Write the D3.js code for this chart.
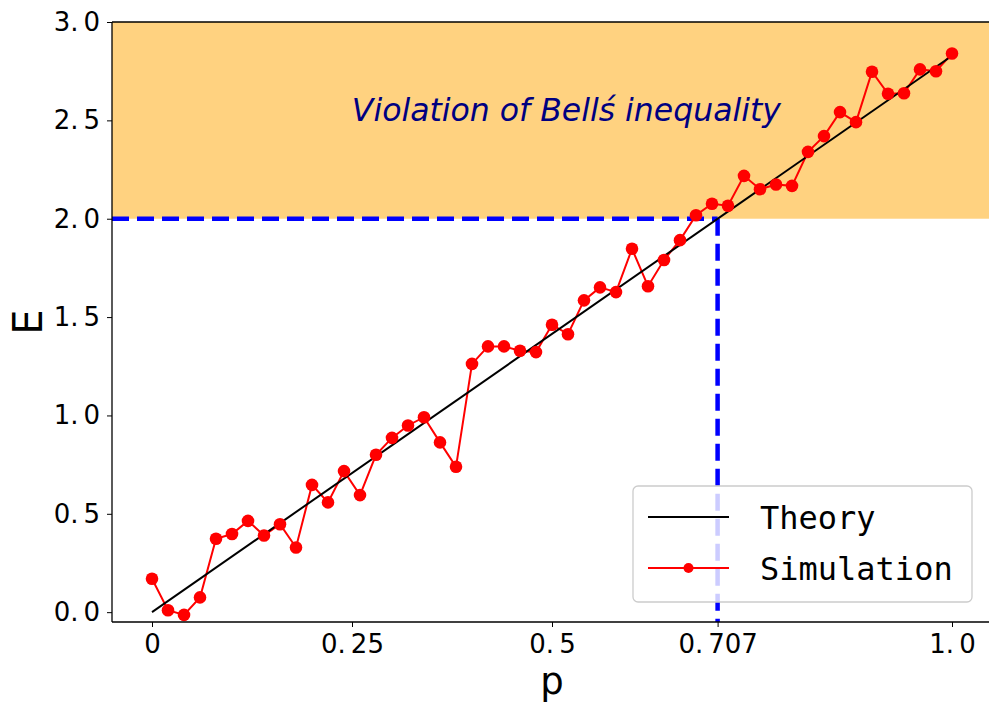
<!DOCTYPE html>
<html>
<head>
<meta charset="utf-8">
<script src="https://cdn.jsdelivr.net/npm/d3@7"></script>
<style>
  body { margin: 0; background: #fff; }
</style>
</head>
<body>
<svg id="canvas" width="989" height="706"></svg>
<script>
const svg = d3.select("#canvas");
const width = 989;
const height = 706;

// p values, step 0.02
const pValues = d3.range(0, 51).map(i => +(i * 0.02).toFixed(2));
const simValues = [
    0.17, 0.01, -0.014, 0.075, 0.373, 0.397, 0.464, 0.39, 0.447, 0.329,
    0.647, 0.558, 0.717, 0.595, 0.80, 0.886, 0.949, 0.991, 0.863, 0.739,
    1.262, 1.351, 1.351, 1.329, 1.322, 1.461, 1.413, 1.585, 1.651, 1.627,
    1.847, 1.657, 1.79, 1.891, 2.018, 2.076, 2.066, 2.218, 2.15, 2.174,
    2.167, 2.34, 2.42, 2.542, 2.491, 2.747, 2.635, 2.638, 2.759, 2.75,
    2.84
];
const theoryP = [0, 1];
const theoryE = [0, 2 * Math.SQRT2];
const xTicks = [0, 0.25, 0.5, 0.707, 1.0];
const xTickLabels = ["0", "0.25", "0.5", "0.707", "1.0"];
const yTicks = [0, 0.5, 1.0, 1.5, 2.0, 2.5, 3.0];
const bellBound = 2;
const pCross = 0.707;

const plotLeft = 112, plotRight = 992, plotTop = 22, plotBottom = 622;

const x = d3.scaleLinear().domain([-0.05, 1.05]).range([plotLeft, plotRight]);
const y = d3.scaleLinear().domain([-0.05, 3.0]).range([plotBottom, plotTop]);

// violation region
svg.append("rect")
    .attr("x", plotLeft)
    .attr("y", y(3.0))
    .attr("width", plotRight - plotLeft)
    .attr("height", y(bellBound) - y(3.0))
    .attr("fill", "#ffd280");

svg.append("text")
    .attr("x", x(0.518))
    .attr("y", y(2.5) + 1)
    .attr("text-anchor", "middle")
    .attr("font-family", "DejaVu Sans")
    .attr("font-style", "italic")
    .attr("font-size", "31.5px")
    .attr("fill", "#000080")
    .text("Violation of Bells\u0301 inequality");

// dashed bound lines
svg.append("line")
    .attr("x1", x(pCross)).attr("x2", x(pCross))
    .attr("y1", y(bellBound)).attr("y2", plotBottom)
    .attr("stroke", "#0000ff")
    .attr("stroke-width", 4.5)
    .attr("stroke-dasharray", "17,8");

svg.append("line")
    .attr("x1", plotLeft).attr("x2", x(pCross))
    .attr("y1", y(bellBound)).attr("y2", y(bellBound))
    .attr("stroke", "#0000ff")
    .attr("stroke-width", 4.5)
    .attr("stroke-dasharray", "17,8");

const simData = pValues.map((p, i) => ({ p, e: simValues[i] }));
const line = d3.line().x(d => x(d.p)).y(d => y(d.e));

svg.append("path")
    .datum(simData)
    .attr("d", line)
    .attr("fill", "none")
    .attr("stroke", "#ff0000")
    .attr("stroke-width", 2);

svg.append("path")
    .datum(theoryP.map((p, i) => ({ p, e: theoryE[i] })))
    .attr("d", line)
    .attr("fill", "none")
    .attr("stroke", "#000")
    .attr("stroke-width", 2);

svg.selectAll("circle.sim")
    .data(simData)
    .enter()
    .append("circle")
    .attr("class", "sim")
    .attr("cx", d => x(d.p))
    .attr("cy", d => y(d.e))
    .attr("r", 6.3)
    .attr("fill", "#ff0000");

// top spine
svg.append("line").attr("x1", plotLeft).attr("x2", plotRight).attr("y1", plotTop).attr("y2", plotTop)
    .attr("stroke", "#000").attr("stroke-width", 1.3);

// tick label: put a gap after the decimal point like the original font
function gapLabel(sel) {
    sel.each(function () {
        const t = d3.select(this);
        const s = t.text();
        const parts = s.split(".");
        t.text(null);
        if (parts.length === 2) {
            t.append("tspan").text(parts[0] + ".");
            t.append("tspan").attr("dx", 5).text(parts[1]);
        } else {
            t.append("tspan").text(s);
        }
    });
}

const xAxis = svg.append("g")
    .attr("transform", `translate(0,${plotBottom})`)
    .call(d3.axisBottom(x).tickValues(xTicks).tickFormat((d, i) => xTickLabels[i])
        .tickSize(5).tickPadding(8).tickSizeOuter(0));
xAxis.select(".domain").attr("stroke-width", 1.3)
    .attr("d", `M${plotLeft},0H${plotRight}`);
xAxis.selectAll("text")
    .attr("font-family", "DejaVu Sans")
    .attr("font-size", "26px")
    .attr("fill", "#000")
    .call(gapLabel);

const yAxis = svg.append("g")
    .attr("transform", `translate(${plotLeft},0)`)
    .call(d3.axisLeft(y).tickValues(yTicks).tickFormat(d3.format(".1f"))
        .tickSize(5).tickPadding(7).tickSizeOuter(0));
yAxis.select(".domain").attr("stroke-width", 1.3)
    .attr("d", `M0,${plotTop}V${plotBottom}`);
yAxis.selectAll("text")
    .attr("font-family", "DejaVu Sans")
    .attr("font-size", "26px")
    .attr("fill", "#000")
    .call(gapLabel);

svg.append("text")
    .attr("x", x(0.5))
    .attr("y", 694)
    .attr("text-anchor", "middle")
    .attr("font-family", "DejaVu Sans")
    .attr("font-size", "37px")
    .text("p");

svg.append("text")
    .attr("transform", `translate(42,${(plotTop + plotBottom) / 2}) rotate(-90)`)
    .attr("text-anchor", "middle")
    .attr("font-family", "DejaVu Sans")
    .attr("font-size", "40px")
    .text("E");

// legend
const legend = svg.append("g").attr("transform", "translate(633,486)");
legend.append("rect")
    .attr("width", 339)
    .attr("height", 116)
    .attr("rx", 5)
    .attr("fill", "#fff")
    .attr("fill-opacity", 0.8)
    .attr("stroke", "#cccccc")
    .attr("stroke-width", 1.3);

const legendItems = [
    { label: "Theory", color: "#000", marker: false, dy: 31 },
    { label: "Simulation", color: "#ff0000", marker: true, dy: 82 }
];
legendItems.forEach(item => {
    legend.append("line")
        .attr("x1", 15).attr("x2", 96)
        .attr("y1", item.dy).attr("y2", item.dy)
        .attr("stroke", item.color)
        .attr("stroke-width", 2);
    if (item.marker) {
        legend.append("circle")
            .attr("cx", 55.5).attr("cy", item.dy)
            .attr("r", 5).attr("fill", item.color);
    }
    legend.append("text")
        .attr("x", 127)
        .attr("y", item.dy + 12)
        .attr("font-family", "DejaVu Sans Mono")
        .attr("font-size", "32px")
        .attr("fill", "#000")
        .text(item.label);
});
</script>
</body>
</html>
